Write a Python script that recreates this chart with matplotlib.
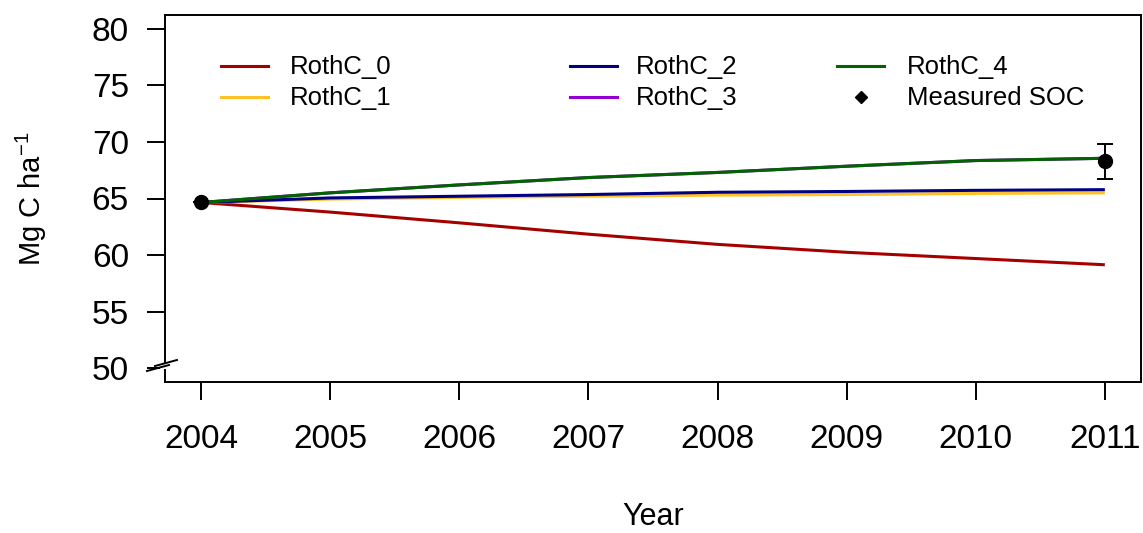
import matplotlib
matplotlib.use("Agg")
import matplotlib.pyplot as plt
from matplotlib.lines import Line2D
from matplotlib.patches import Rectangle

plt.rcParams['font.family'] = ['Liberation Sans', 'DejaVu Sans']
plt.rcParams['mathtext.fontset'] = 'custom'
plt.rcParams['mathtext.rm'] = 'Liberation Sans'
plt.rcParams['mathtext.it'] = 'Liberation Sans'
plt.rcParams['mathtext.sf'] = 'Liberation Sans'

years = [2004, 2005, 2006, 2007, 2008, 2009, 2010, 2011]
rothc_0 = [64.65, 63.8, 62.85, 61.85, 60.95, 60.25, 59.7, 59.15]
rothc_1 = [64.65, 64.95, 65.1, 65.2, 65.3, 65.35, 65.45, 65.5]
rothc_2 = [64.65, 65.05, 65.2, 65.35, 65.55, 65.62, 65.72, 65.78]
rothc_3 = [64.65, 65.5, 66.2, 66.85, 67.3, 67.85, 68.35, 68.55]
rothc_4 = [64.65, 65.5, 66.2, 66.85, 67.3, 67.85, 68.35, 68.55]

soc_years = [2004, 2011]
soc_mean = [64.65, 68.3]
soc_err = [0.0, 1.55]

series_names = ['RothC_0', 'RothC_1', 'RothC_2', 'RothC_3', 'RothC_4']
series_colors = ['#A50000', '#FFC125', '#000080', '#9400D3', '#006400']
y_ticks = [50, 55, 60, 65, 70, 75, 80]

W, H = 1143, 533
fig = plt.figure(figsize=(W / 100, H / 100), dpi=100)
ax = fig.add_axes([165 / W, 1 - 382 / H, (1141 - 165) / W, (382 - 15) / H])

lw = 2.2
for vals, col in zip([rothc_0, rothc_1, rothc_3, rothc_2, rothc_4],
                     [series_colors[0], series_colors[1], series_colors[3],
                      series_colors[2], series_colors[4]]):
    ax.plot(years, vals, color=col, lw=lw, solid_capstyle='butt', zorder=2)

ax.errorbar(soc_years, soc_mean, yerr=soc_err, fmt='o', color='black',
            ms=10, elinewidth=1.4, capsize=6, capthick=1.4, zorder=3)

ax.set_xlim(2003.72, 2011.28)
ax.set_ylim(48.8, 81.2)
ax.set_xticks(years)
ax.set_yticks(y_ticks)
ax.tick_params(axis='both', length=13, width=1.4, labelsize=24, color='black')
ax.tick_params(axis='x', pad=17)
ax.tick_params(axis='y', pad=13)
for sp in ax.spines.values():
    sp.set_linewidth(1.4)

ax.set_xlabel('Year', fontsize=22, labelpad=34)
ax.set_ylabel(r'Mg C ha$^{-1}$', fontsize=21, labelpad=31)


def fx(px):
    return px / W


def fy(py):
    return 1 - py / H


# axis break marks on the left axis
fig.add_artist(Rectangle((fx(160), fy(369)), fx(10), 5 / H, transform=fig.transFigure,
                         facecolor='white', edgecolor='none', zorder=10))
fig.add_artist(Line2D([fx(155), fx(177)], [fy(366), fy(360)], transform=fig.transFigure,
                      color='black', lw=1.4, zorder=11))
fig.add_artist(Line2D([fx(147), fx(169)], [fy(371), fy(365)], transform=fig.transFigure,
                      color='black', lw=1.4, zorder=11))

# legend, three columns of two entries
leg_fs = 18.5
col_line_x = [221, 570, 837]
col_text_x = [290, 636, 907]
row_y = [66, 97]
entries = [(series_names[0], series_colors[0], 'line'),
           (series_names[1], series_colors[1], 'line'),
           (series_names[2], series_colors[2], 'line'),
           (series_names[3], series_colors[3], 'line'),
           (series_names[4], series_colors[4], 'line'),
           ('Measured SOC', 'black', 'point')]
for i, (name, col, kind) in enumerate(entries):
    c, r = divmod(i, 2)
    y = row_y[r]
    if kind == 'line':
        fig.add_artist(Line2D([fx(col_line_x[c]), fx(col_line_x[c] + 47)], [fy(y), fy(y)],
                              transform=fig.transFigure, color=col, lw=lw))
    else:
        fig.add_artist(Line2D([fx(col_line_x[c] + 23.5)], [fy(y)], transform=fig.transFigure,
                              color=col, marker='D', ms=6, lw=0))
    fig.text(fx(col_text_x[c]), fy(y + 1), name, fontsize=leg_fs, va='center', ha='left')

fig.savefig('out.png', dpi=100)
